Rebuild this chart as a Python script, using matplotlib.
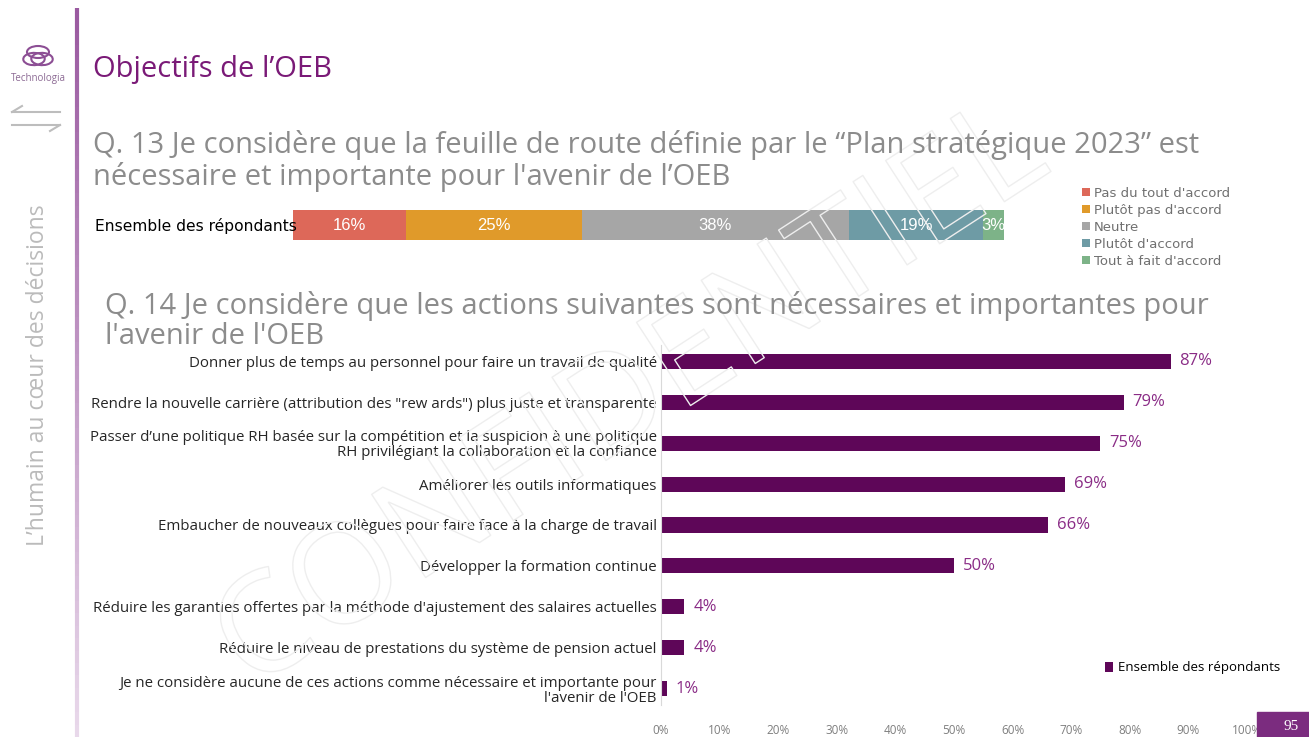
import numpy as np
import matplotlib
matplotlib.use('Agg')
import matplotlib.pyplot as plt
import matplotlib.patheffects as pe
from matplotlib.collections import LineCollection
from matplotlib.patches import Rectangle, Ellipse

# ----------------------------------------------------------------------------
# DATA
# ----------------------------------------------------------------------------
q13_row = 'Ensemble des répondants'
q13_levels = ["Pas du tout d'accord", "Plutôt pas d'accord", 'Neutre',
              "Plutôt d'accord", "Tout à fait d'accord"]
q13_values = [16, 25, 38, 19, 3]
q13_colors = ['#DD6859', '#E09A2A', '#A6A6A6', '#6E9BA5', '#7DB388']

q14_actions = [
    'Donner plus de temps au personnel pour faire un travail de qualité',
    'Rendre la nouvelle carrière (attribution des "rew ards") plus juste et transparente',
    "Passer d’une politique RH basée sur la compétition et la suspicion à une politique\nRH privilégiant la collaboration et la confiance",
    'Améliorer les outils informatiques',
    'Embaucher de nouveaux collègues pour faire face à la charge de travail',
    'Développer la formation continue',
    "Réduire les garanties offertes par la méthode d'ajustement des salaires actuelles",
    'Réduire le niveau de prestations du système de pension actuel',
    "Je ne considère aucune de ces actions comme nécessaire et importante pour\nl'avenir de l'OEB",
]
q14_values = [87, 79, 75, 69, 66, 50, 4, 4, 1]
q14_series = 'Ensemble des répondants'
xticks = [0, 10, 20, 30, 40, 50, 60, 70, 80, 90, 100]

PURPLE = '#5E0658'
LABEL_PURPLE = '#8A2C86'
TITLE_PURPLE = '#7A1A77'
FONT = 'Open Sans'

W, H = 1309, 737
fig = plt.figure(figsize=(W / 100, H / 100), dpi=100)


def fx(x):
    return x / W


def fy(y):
    return 1 - y / H


# watermark, outline only
fig.text(fx(632), fy(400), 'CONFIDENTIEL', fontsize=100, family=FONT,
         color='none', rotation=33, ha='center', va='center', zorder=0,
         path_effects=[pe.Stroke(linewidth=1.0, foreground='#EEEEEE')])

# left gradient rule
ys = np.linspace(fy(8), 0, 60)
segs = [[(fx(77), ys[i]), (fx(77), ys[i + 1])] for i in range(len(ys) - 1)]
cols = plt.cm.colors.LinearSegmentedColormap.from_list('g', ['#9A5AA0', '#E8D8EA'])(np.linspace(0, 1, len(segs)))
fig.add_artist(LineCollection(segs, colors=cols, linewidths=3, transform=fig.transFigure))

# logo
for ang, dx, dy in ((0, 0, -4), (60, -4, 3), (120, 4, 3)):
    fig.add_artist(Ellipse((fx(38 + dx), fy(56 + dy)), fx(22), 12 / H, angle=ang, fill=False,
                           edgecolor='#8C4E94', linewidth=1.5, transform=fig.transFigure))
fig.text(fx(38), fy(78), 'Technologia', fontsize=7, color='#8C6A94', ha='center', va='center', family=FONT)

# arrows
fig.add_artist(plt.Line2D([fx(12), fx(60)], [fy(112), fy(112)], color='#BDBDBD', lw=1.5))
fig.add_artist(plt.Line2D([fx(12), fx(60)], [fy(125), fy(125)], color='#BDBDBD', lw=1.5))
fig.add_artist(plt.Line2D([fx(12), fx(22)], [fy(112), fy(106)], color='#BDBDBD', lw=1.5))
fig.add_artist(plt.Line2D([fx(60), fx(50)], [fy(125), fy(131)], color='#BDBDBD', lw=1.5))

fig.text(fx(38), fy(375), 'L’humain au cœur des décisions', rotation=90, fontsize=16.5,
         color='#BBBBBB', ha='center', va='center', family=FONT)

# titles
fig.text(fx(93), fy(70), 'Objectifs de l’OEB', fontsize=21, color=TITLE_PURPLE,
         ha='left', va='center', family=FONT)
fig.text(fx(93), fy(161), 'Q. 13 Je considère que la feuille de route définie par le “Plan stratégique 2023” est\n'
         'nécessaire et importante pour l\'avenir de l’OEB', fontsize=21, color='#8C8C8C',
         ha='left', va='center', family=FONT, linespacing=1.05)
fig.text(fx(105), fy(321), 'Q. 14 Je considère que les actions suivantes sont nécessaires et importantes pour\n'
         'l\'avenir de l\'OEB', fontsize=21, color='#8C8C8C',
         ha='left', va='center', family=FONT, linespacing=1.05)

# ----------------------------------------------------------------------------
# Q13 stacked bar
# ----------------------------------------------------------------------------
ax1 = fig.add_axes([fx(293), fy(245), fx(1004 - 293), 40 / H])
ax1.set_facecolor('none')
left = 0
handles = []
for lvl, v, c in zip(q13_levels, q13_values, q13_colors):
    b = ax1.barh([0], [v], left=left, height=0.75, color=c, label=lvl)
    handles.append(b)
    ax1.text(left + v / 2, 0, f'{v}%', ha='center', va='center', color='white',
             fontsize=12, family='Liberation Sans')
    left += v
ax1.set_xlim(0, sum(q13_values))
ax1.set_ylim(-0.5, 0.5)
ax1.axis('off')
fig.text(fx(95), fy(226), q13_row, fontsize=11.2, color='black', ha='left', va='center',
         family='DejaVu Sans')
fig.legend(handles=handles, loc='upper left', bbox_to_anchor=(fx(1070), fy(175)),
           frameon=False, handlelength=0.6, handleheight=0.6,
           handletextpad=0.3, labelspacing=0.3, labelcolor='#707070',
           prop={'family': 'DejaVu Sans', 'size': 9.5})

# ----------------------------------------------------------------------------
# Q14 horizontal bars
# ----------------------------------------------------------------------------
ax2 = fig.add_axes([fx(661), fy(705), fx(1247 - 661), 360 / H])
ax2.set_facecolor('none')
ypos = np.arange(len(q14_actions))
bars = ax2.barh(ypos, q14_values, height=0.37, color=PURPLE, label=q14_series)
for y, v in zip(ypos, q14_values):
    ax2.text(v + 1.5, y, f'{v}%', ha='left', va='center', color=LABEL_PURPLE,
             fontsize=12, family=FONT)
ax2.set_xlim(0, 100)
ax2.set_ylim(len(q14_actions) - 0.6, -0.4)
ax2.set_yticks(ypos)
ax2.set_yticklabels(q14_actions, fontsize=10.8, color='#262626', family=FONT,
                    linespacing=1.0)
ax2.set_xticks(xticks)
ax2.set_xticklabels([f'{t}%' for t in xticks], fontsize=8.5, color='#7F7F7F', family=FONT)
ax2.tick_params(axis='both', length=0)
ax2.tick_params(axis='x', pad=14)
ax2.tick_params(axis='y', pad=3)
for s in ('top', 'right', 'bottom'):
    ax2.spines[s].set_visible(False)
ax2.spines['left'].set_color('#D9D9D9')
ax2.legend(loc='center left', bbox_to_anchor=(fx(1093 - 661) / fx(586), (705 - 668) / 360),
           frameon=False, handlelength=0.6, handleheight=0.8,
           handletextpad=0.4, prop={'family': FONT, 'size': 9.5})

# page number
fig.add_artist(Rectangle((fx(1257), 0), fx(52), 25 / H, color='#7B2C7F',
                         transform=fig.transFigure))
fig.text(fx(1291), fy(727), '95', color='white', fontsize=11, family='Liberation Serif',
         ha='center', va='center')

fig.savefig('out.png', dpi=100)
